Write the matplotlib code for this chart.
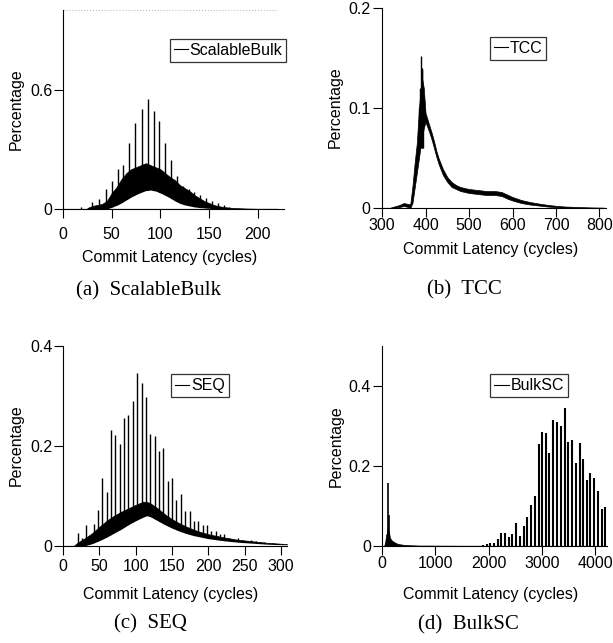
import matplotlib
matplotlib.use("Agg")
from matplotlib import pyplot as plt

plt.rcParams['font.family'] = ['Liberation Sans', 'DejaVu Sans']
plt.rcParams['font.size'] = 11.5

# (a) ScalableBulk: tall spikes + dense body (lower / upper edge)
a_spike_x = [18, 30, 37, 44, 50, 56, 62, 68, 74, 81, 87, 93, 99, 105, 111, 117,
             123, 129, 135, 141, 147, 153, 159, 165, 171]
a_spike_y = [0.012, 0.035, 0.05, 0.10, 0.14, 0.20, 0.22, 0.33, 0.43, 0.50, 0.555,
             0.49, 0.44, 0.33, 0.245, 0.165, 0.115, 0.10, 0.085, 0.07, 0.055, 0.04,
             0.03, 0.02, 0.012]
a_body_x = [25, 30, 35, 40, 45, 50, 55, 60, 65, 70, 75, 80, 85, 90, 95, 100, 105,
            110, 115, 120, 125, 130, 135, 140, 145, 150, 155, 160, 165, 170, 175,
            180, 190, 200, 210, 220]
a_body_lo = [0, 0, 0, 0, 0, 0.008, 0.018, 0.03, 0.045, 0.06, 0.072, 0.083, 0.092,
             0.095, 0.09, 0.08, 0.068, 0.055, 0.04, 0.028, 0.02, 0.015, 0.01, 0.007,
             0.005, 0.003, 0.002, 0.001, 0, 0, 0, 0, 0, 0, 0, 0]
a_body_hi = [0.005, 0.015, 0.02, 0.025, 0.04, 0.08, 0.11, 0.15, 0.18, 0.20, 0.21,
             0.22, 0.23, 0.22, 0.21, 0.20, 0.18, 0.16, 0.145, 0.12, 0.105, 0.09,
             0.07, 0.055, 0.04, 0.03, 0.02, 0.014, 0.01, 0.007, 0.005, 0.004, 0.002,
             0.001, 0.001, 0.001]

# (b) TCC: noisy band + peak spikes
b_x = [320, 340, 350, 360, 365, 370, 375, 380, 385, 388, 392, 396, 400, 405, 410,
       415, 420, 425, 430, 440, 450, 460, 470, 480, 500, 520, 540, 560, 575, 590,
       600, 620, 640, 660, 680, 700, 720, 750, 780, 810]
b_lo = [0, 0.001, 0.002, 0.001, 0, 0.005, 0.02, 0.035, 0.05, 0.06, 0.07, 0.08,
        0.086, 0.08, 0.074, 0.067, 0.059, 0.051, 0.044, 0.033, 0.026, 0.021, 0.019,
        0.017, 0.015, 0.014, 0.013, 0.013, 0.012, 0.009, 0.0075, 0.005, 0.0035,
        0.0025, 0.0015, 0.0008, 0.0003, 0, 0, 0]
b_hi = [0.0005, 0.003, 0.005, 0.004, 0.004, 0.022, 0.045, 0.065, 0.10, 0.115,
        0.13, 0.12, 0.095, 0.088, 0.081, 0.074, 0.066, 0.057, 0.05, 0.039, 0.031,
        0.026, 0.023, 0.021, 0.019, 0.018, 0.017, 0.017, 0.016, 0.013, 0.011,
        0.008, 0.006, 0.0045, 0.0032, 0.0022, 0.0015, 0.001, 0.0006, 0.0004]
b_spike_x = [384, 387, 389, 391, 393, 395]
b_spike_y = [0.10, 0.12, 0.152, 0.14, 0.138, 0.11]

# (c) SEQ
c_spike_x = [20, 26, 32, 37, 42, 48, 54, 60, 66, 72, 78, 84, 90, 96, 102, 108, 114,
             120, 126, 132, 138, 144, 150, 156, 162, 168, 174, 180, 186, 192, 198,
             204, 210, 216, 222, 228, 234, 240, 247, 253, 259, 265, 271, 277, 283,
             289, 295, 301]
c_spike_y = [0.025, 0.015, 0.042, 0.02, 0.044, 0.072, 0.135, 0.107, 0.231, 0.222,
             0.204, 0.255, 0.262, 0.289, 0.345, 0.325, 0.297, 0.224, 0.219, 0.189,
             0.195, 0.129, 0.135, 0.092, 0.104, 0.069, 0.069, 0.05, 0.05, 0.042,
             0.042, 0.029, 0.03, 0.024, 0.023, 0.015, 0.014, 0.016, 0.012, 0.01,
             0.012, 0.009, 0.007, 0.007, 0.005, 0.005, 0.004, 0.003]
c_body_x = [15, 20, 30, 40, 50, 60, 70, 80, 90, 100, 110, 115, 120, 130, 140, 150,
            160, 170, 180, 190, 200, 220, 240, 260, 280, 300, 308]
c_body_lo = [0, 0, 0, 0.004, 0.01, 0.017, 0.025, 0.033, 0.042, 0.05, 0.057, 0.06,
             0.058, 0.05, 0.042, 0.035, 0.029, 0.024, 0.02, 0.017, 0.014, 0.01,
             0.007, 0.005, 0.003, 0.002, 0.002]
c_body_hi = [0, 0.006, 0.015, 0.025, 0.038, 0.05, 0.06, 0.068, 0.075, 0.082, 0.088,
             0.088, 0.085, 0.075, 0.063, 0.053, 0.045, 0.038, 0.032, 0.027, 0.023,
             0.017, 0.012, 0.009, 0.006, 0.004, 0.003]

# (d) BulkSC: early spike + comb of bars
d_body_x = [40, 60, 70, 80, 90, 100, 110, 120, 130, 150, 175, 200, 250, 300, 400,
            500, 700, 1000, 1500, 1900]
d_body_hi = [0, 0.01, 0.02, 0.03, 0.03, 0.04, 0.05, 0.04, 0.035, 0.02, 0.015,
             0.012, 0.008, 0.005, 0.003, 0.002, 0.001, 0.0008, 0.0005, 0.0005]
d_spike_x = [112, 131]
d_spike_y = [0.158, 0.078]
d_bar_x = [1895, 1964, 2033, 2101, 2170, 2239, 2308, 2377, 2445, 2520, 2589, 2658,
           2727, 2795, 2870, 2939, 3002, 3071, 3139, 3214, 3277, 3352, 3427, 3496,
           3565, 3634, 3709, 3771, 3840, 3908, 3977, 4047, 4122, 4190]
d_bar_y = [0.003, 0.004, 0.007, 0.008, 0.017, 0.032, 0.032, 0.023, 0.03, 0.057,
           0.025, 0.05, 0.072, 0.103, 0.125, 0.255, 0.286, 0.283, 0.233, 0.315,
           0.31, 0.299, 0.345, 0.26, 0.265, 0.207, 0.257, 0.217, 0.165, 0.182,
           0.169, 0.138, 0.093, 0.098]


def style(ax, xlim, ylim, xticks, yticks, ylabels, xpad, ypad):
    ax.set_xlim(*xlim)
    ax.set_ylim(*ylim)
    ax.set_xticks(xticks)
    ax.set_yticks(yticks)
    ax.set_yticklabels(ylabels)
    for s in ['top', 'right']:
        ax.spines[s].set_visible(False)
    for s in ['left', 'bottom']:
        ax.spines[s].set_linewidth(0.8)
    ax.tick_params(axis='x', direction='out', length=6.3, width=0.8, pad=xpad)
    ax.tick_params(axis='y', direction='out', length=6.5, width=0.8, pad=ypad)


def legend(ax, label, cx, cy):
    ax.plot([], [], color='black', lw=0.8, label=label)
    lg = ax.legend(loc='center', bbox_to_anchor=(cx, cy),
                   bbox_transform=fig.transFigure, frameon=True, fancybox=False,
                   handlelength=0.9, handletextpad=0.1, borderpad=0.25,
                   borderaxespad=0, fontsize=11.5)
    lg.get_frame().set_edgecolor('black')
    lg.get_frame().set_linewidth(0.9)


fig = plt.figure(figsize=(6.13, 6.43), dpi=100)

# (a)
ax = fig.add_axes([0.1028, 0.6750, 0.3605, 0.3095])
ax.fill_between(a_body_x, a_body_lo, a_body_hi, color='black', lw=0.5)
ax.vlines(a_spike_x, 0, a_spike_y, color='black', lw=1.0)
ax.fill_between(a_body_x, 0, a_body_lo, color='white', lw=0, zorder=2)
ax.hlines(1.0, 0, 220, colors='0.75', linestyles=':', lw=0.8, clip_on=False)
ax.plot([0, 220], [0, 0], color='black', lw=0.8)
style(ax, (0, 227), (0, 1.0), [0, 50, 100, 150, 200], [0, 0.6], ['0', '0.6'], 6.5, 1.2)
legend(ax, 'ScalableBulk', 0.372, 0.9222)

# (b)
ax = fig.add_axes([0.6232, 0.6765, 0.3654, 0.3110])
ax.fill_between(b_x, b_lo, b_hi, color='black', lw=0.5)
ax.vlines(b_spike_x, 0.06, b_spike_y, color='black', lw=1.0)
ax.plot([300, 320], [0, 0], color='black', lw=0.8)
style(ax, (300, 815), (0, 0.2), [300, 400, 500, 600, 700, 800], [0, 0.1, 0.2],
      ['0', '0.1', '0.2'], 1.2, 1.9)
legend(ax, 'TCC', 0.845, 0.9253)

# (c)
ax = fig.add_axes([0.1028, 0.1513, 0.3654, 0.3106])
ax.fill_between(c_body_x, c_body_lo, c_body_hi, color='black', lw=0.5)
ax.vlines(c_spike_x, 0, c_spike_y, color='black', lw=1.0)
ax.fill_between(c_body_x, 0, c_body_lo, color='white', lw=0, zorder=2)
ax.plot([0, 15], [0, 0], color='black', lw=0.8)
style(ax, (0, 308), (0, 0.4), [0, 50, 100, 150, 200, 250, 300], [0, 0.2, 0.4],
      ['0', '0.2', '0.4'], 3.6, 1.2)
legend(ax, 'SEQ', 0.326, 0.3997)

# (d)
ax = fig.add_axes([0.6232, 0.1509, 0.3670, 0.3110])
ax.fill_between(d_body_x, 0, d_body_hi, color='black', lw=0.5)
ax.vlines(d_spike_x, 0, d_spike_y, color='black', lw=1.2)
ax.vlines(d_bar_x, 0, d_bar_y, color='black', lw=1.5)
ax.plot([0, 4190], [0, 0], color='black', lw=0.8)
style(ax, (0, 4220), (0, 0.5), [0, 1000, 2000, 3000, 4000], [0, 0.2, 0.4],
      ['0', '0.2', '0.4'], 1.0, 1.5)
legend(ax, 'BulkSC', 0.863, 0.3997)

# axis titles and captions
xlab = 'Commit Latency (cycles)'
for x, y in [(0.2773, 0.5995), (0.801, 0.612), (0.279, 0.0754), (0.801, 0.0754)]:
    fig.text(x, y, xlab, ha='center', va='center', fontsize=11.5)
for x, y in [(0.026, 0.830), (0.5465, 0.8328), (0.027, 0.308), (0.548, 0.306)]:
    fig.text(x, y, 'Percentage', ha='center', va='center', rotation=90, fontsize=11.5)

captions = ['(a)  ScalableBulk', '(b)  TCC', '(c)  SEQ', '(d)  BulkSC']
for t, (x, y) in zip(captions, [(0.2423, 0.5474), (0.7577, 0.5498),
                                (0.2447, 0.0295), (0.7643, 0.0288)]):
    fig.text(x, y, t, ha='center', va='center', fontsize=15,
             family=['Liberation Serif', 'DejaVu Serif'])

fig.savefig('out.png', dpi=100)
